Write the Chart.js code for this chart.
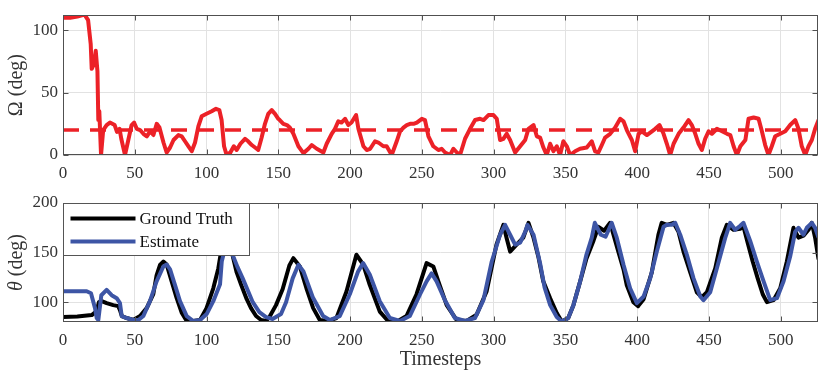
<!DOCTYPE html>
<html>
<head>
<meta charset="utf-8">
<script src="https://cdn.jsdelivr.net/npm/chart.js@4.4.1/dist/chart.umd.min.js"></script>
<style>
  html, body { margin: 0; padding: 0; background: #fff; }
  #wrap { position: relative; width: 821px; height: 373px; }
  #omegaChart { position: absolute; left: 0; top: 0; }
  #thetaChart { position: absolute; left: 0; top: 185px; }
</style>
</head>
<body>
<div id="wrap">
  <canvas id="omegaChart" width="821" height="185"></canvas>
  <canvas id="thetaChart" width="821" height="188"></canvas>
</div>
<script>
// Timesteps axis
const xTicks = [0, 50, 100, 150, 200, 250, 300, 350, 400, 450, 500];
const xMax = 526;

// Top panel: Omega (deg) and its dashed reference level
const omegaTicks = [0, 50, 100];
const omegaMax = 112;
const omegaRef = 20;
const omegaT = [0, 5, 10, 15, 17.5, 19.3, 20, 21.6, 22.8, 24, 24.6, 25.3, 26.5, 28, 30.4, 32.7, 36, 37.6, 39.4, 40.6,
  43.2, 45.5, 47.8, 49.5, 51.4, 53.7, 56, 58.4, 60.7, 63, 65.3, 67.2, 70, 72.2, 74.6, 77, 80.4, 82.7, 85, 87.4,
  89.7, 92, 94.3, 96.6, 100, 103.6, 106.6, 108.9, 110.5, 112.2, 114, 116.6, 119, 121, 123.6, 126.8, 129, 131.5, 133.8, 136,
  138.4, 140.7, 143, 145.4, 147.7, 150, 151, 153.5, 156, 158, 160.5, 164, 167.5, 171, 173.3, 176.8, 181.4, 183.7, 187.2, 189.5,
  191.8, 194, 196.5, 198.8, 201, 204.2, 205.8, 209.3, 211.6, 214, 217.4, 219.7, 223.2, 225.5, 229, 232.5, 234.8, 237.2, 239.5, 241.8,
  244.2, 246.5, 250, 252.2, 254.6, 258, 261.5, 263.8, 266.2, 269.7, 272, 274.4, 276.6, 280.1, 283.6, 287.1, 290.6, 293, 296.4, 299.9,
  302.2, 304.5, 306.8, 309.1, 311.5, 315, 318.5, 322, 324.3, 327.8, 330.1, 332.4, 334.7, 337, 339.4, 341.7, 344, 346.3, 348.6, 351,
  353.3, 356.8, 360.2, 364.9, 368.4, 370.7, 373, 375.4, 377.7, 381.2, 384.7, 388.2, 390.5, 392.8, 396.3, 398.6, 401, 403.3, 406.8, 410.3,
  412.6, 415.6, 418.4, 420.7, 423, 425.4, 428.9, 432.3, 435.8, 438.1, 440.5, 442.8, 445.1, 447.4, 449.8, 452.1, 455.6, 459.1, 462.6, 464.9,
  467.2, 469.5, 471.9, 475.4, 477.6, 481.1, 484.6, 486.9, 489.2, 491.5, 493.8, 496.2, 499.7, 503.2, 506.6, 510.1, 512.4, 514.7, 517.1, 519.4,
  521.7, 524, 526.4];
const omegaVal = [110, 110, 111, 112.5, 108, 89, 69, 73, 83.5, 67, 28, 35, 0, 20, 24, 26, 24, 18.5, 21, 13,
  0, 12, 24, 26, 21, 20, 17, 15, 19, 16, 25, 22, 10, 2, 6, 12, 16, 15, 11, 7,
  3, 10, 23, 31, 33, 35, 37, 36, 28, 7, 0, 2, 7, 4, 9, 13, 11, 8, 6, 4,
  14, 25, 33, 36, 33, 29, 28, 25, 24, 22, 17, 7, 1.5, 5, 8, 5, 2, 9, 17, 21,
  27, 26, 29, 24, 26, 32, 21, 7, 4, 5, 11, 10, 7, 7, 0, 11, 19, 22, 24, 25,
  25, 26, 29, 28, 15, 7, 4, 5, 2, 0, 5, 2, 0, 13, 21, 28, 29, 28, 32, 32,
  29, 12, 13, 17, 12, 2, 7, 12, 21, 24, 15, 14, 6, 0, 9, 3, 7, 0, 11, 7,
  0, 3, 5, 6, 11, 3, 2, 8, 14, 17, 22, 29, 27, 20, 12, 3, 17, 19, 16, 19,
  21, 24, 17, 9, 0, 9, 17, 22, 28, 24, 17, 9, 4, 13, 19, 17, 21, 19, 17, 16,
  7, 0, 7, 12, 29, 30, 29, 19, 8, 0, 7, 15, 17, 19, 24, 28, 21, 7, 0, 7,
  12, 21, 28];

// Bottom panel: theta (deg), ground truth vs estimate
const thetaTicks = [100, 150, 200];
const thetaMin = 80;
const thetaMax = 200;
const gtT = [0, 10, 20, 23.5, 25, 27, 30.4, 35, 38.5, 39.7, 41, 44.4, 49, 53.7, 58.3, 62.9, 65.2, 67.6, 69.9, 72.2,
  75.7, 79.2, 82.8, 86.2, 90.8, 95.5, 100, 104.7, 108.2, 110.6, 113.5, 116, 118, 121, 124, 128, 131, 134.5, 138, 141.5,
  144, 148.4, 153, 157.7, 160.5, 165, 169.6, 174.3, 178.9, 184.7, 190.5, 197.5, 204.4, 209.1, 213.7, 220.7, 226.5, 233.4, 239.3, 246.3,
  253.3, 258, 261.5, 267.3, 274.3, 281.2, 288.2, 295.1, 302, 306.8, 309, 311.5, 316, 320.7, 324.3, 327.8, 331.3, 334.6, 339.4, 344,
  347.5, 352, 355.6, 360.3, 364.7, 369.6, 373, 377, 381.2, 386.9, 390.5, 392.8, 397.4, 400.7, 404.5, 410.2, 414.8, 417.1, 420.7, 425.3,
  428.8, 432.3, 437, 441.6, 445.1, 448.6, 454.4, 459, 462.5, 467.2, 471.8, 474.1, 477, 480.5, 484, 487.5, 490.4, 495, 499.7, 504.3,
  508.9, 512.4, 515.9, 519.4, 521.7, 524, 526.4];
const gtVal = [85, 85.5, 87, 91, 100, 101, 99, 97, 96, 92, 86, 84, 82, 86, 94, 108, 127, 137.5, 141, 138,
  121, 104, 89, 81, 81, 82, 94, 114, 134, 155, 176, 165, 148, 130, 118, 103, 94, 86, 82, 81,
  85.5, 97, 113, 137, 144.4, 136, 114, 94, 82, 81, 84, 110.7, 147.8, 138, 117.5, 90.5, 81, 81, 86, 108,
  139.4, 136, 121, 97, 82, 81, 87.5, 110.7, 158, 178, 165, 151, 158, 165, 180, 165, 145, 121, 104, 89,
  80.5, 84, 97, 121, 144, 162, 176, 172, 180, 151, 133, 117, 100, 96, 103, 130, 168, 180, 178, 180,
  171, 151, 130, 110, 105, 110, 134, 165, 178, 173, 174, 176, 160, 141, 124, 108, 100, 102, 114, 141,
  175, 165, 167, 173, 180, 165, 143];
const estT = [0, 10, 16.5, 19.5, 22.3, 23.5, 24.6, 26.7, 30.4, 33.9, 37.4, 39.7, 40.9, 44.4, 49, 52.5, 56, 60.6, 65.2, 69.9,
  72.2, 74.6, 78, 81.5, 86.2, 90.8, 95.5, 100.1, 104.7, 109.4, 110.6, 111.8, 114.5, 116.5, 118.2, 121.7, 125.2, 128.7, 132.2, 136.8,
  141.5, 146, 151.9, 155.4, 160, 164, 167.5, 174, 181.2, 185.9, 192.8, 199.8, 205.6, 209.1, 213.7, 220.7, 227.7, 234.7, 241.6, 248.8,
  253.3, 256.8, 260.3, 266.1, 273, 280, 287, 292.9, 298.7, 304.5, 308, 311.5, 315, 318.5, 322, 323.6, 327.8, 332.4, 335.5, 339.4,
  344, 347.5, 352, 355.6, 360.3, 364.7, 368.4, 370.5, 374.7, 378, 382.3, 385.8, 390.5, 395.1, 399.8, 404.5, 409.1, 413.7, 418.4, 420.7,
  424.2, 426.5, 430, 434.6, 439.3, 444, 446.2, 450.9, 455.5, 461.3, 464.8, 468.3, 471.8, 474.1, 478.7, 483.4, 488.1, 492.7, 497.4, 502,
  506.6, 510.1, 512.4, 515.9, 518.2, 521.7, 524, 526.4];
const estVal = [111, 111, 111, 109, 94, 84, 82, 107, 112.4, 107, 104, 99, 86, 84, 82, 82, 86, 101, 121, 136,
  138, 133, 117.5, 101, 86, 81, 82, 88, 101, 118, 141, 148, 175, 170, 147.5, 135, 124, 112, 100, 90,
  85, 83, 88, 100, 124, 137.7, 131, 105, 86, 82, 86, 108, 131, 139.4, 128, 101, 84, 81, 86, 108,
  121, 129, 121, 102, 84, 81, 84, 102, 141, 168, 178, 168, 158, 160, 171, 178, 168, 139, 115, 97,
  85, 80.5, 84, 97, 121, 148, 165, 180, 168, 166, 180, 165, 137.7, 114, 99, 105.7, 124, 151, 176, 178,
  178, 180, 168, 148, 124, 105.7, 102, 110, 134, 164.6, 180, 173, 177, 180, 162, 141, 121, 102, 104, 121,
  146, 171, 175, 168, 175, 180, 175, 165];

const FONT = "'Liberation Serif', 'Times New Roman', serif";
const TEXT = '#333333';
const BOX = '#505050';
const GRID = '#e2e2e2';
const RED = '#ec2127';
const BLUE = '#3d55a5';

const pts = (xs, ys) => xs.map((x, i) => ({ x: x, y: ys[i] }));

// MATLAB-like axes: box, inward ticks, rotated y title, x title, boxed legend
const axesBox = {
  id: 'axesBox',
  afterDatasetsDraw(chart, args, opts) {
    const { ctx, chartArea: a, scales } = chart;
    const L = Math.round(a.left) + 0.5, R = Math.round(a.right) - 0.5;
    const T = Math.round(a.top) + 0.5, B = Math.round(a.bottom) - 0.5;
    ctx.save();
    ctx.strokeStyle = BOX;
    ctx.lineWidth = 1;
    ctx.beginPath();
    scales.x.ticks.forEach(t => {
      const px = Math.round(scales.x.getPixelForValue(t.value)) + 0.5;
      ctx.moveTo(px, T); ctx.lineTo(px, T + 5);
      ctx.moveTo(px, B); ctx.lineTo(px, B - 5);
    });
    scales.y.ticks.forEach(t => {
      const py = Math.round(scales.y.getPixelForValue(t.value)) + 0.5;
      ctx.moveTo(L, py); ctx.lineTo(L + 5, py);
      ctx.moveTo(R, py); ctx.lineTo(R - 5, py);
    });
    ctx.stroke();
    ctx.strokeRect(L, T, R - L, B - T);

    // legend box in the upper left corner
    if (opts.legend) {
      const w = 186, h = 52;
      ctx.fillStyle = '#ffffff';
      ctx.fillRect(L, T, w, h);
      ctx.strokeStyle = '#555555';
      ctx.strokeRect(L, T, w, h);
      ctx.font = '17px ' + FONT;
      ctx.textBaseline = 'middle';
      ctx.textAlign = 'left';
      chart.data.datasets.forEach((ds, i) => {
        const y = T + 15 + i * 23;
        ctx.strokeStyle = ds.borderColor;
        ctx.lineWidth = 4;
        ctx.beginPath();
        ctx.moveTo(L + 7, y); ctx.lineTo(L + 72, y);
        ctx.stroke();
        ctx.fillStyle = '#111111';
        ctx.fillText(ds.label, L + 76, y + 1);
      });
    }

    // y title, rotated, with optional italic symbol
    ctx.fillStyle = TEXT;
    ctx.textBaseline = 'middle';
    ctx.textAlign = 'left';
    const parts = opts.yTitle;
    const fontFor = p => (p.italic ? 'italic ' : '') + '20px ' + FONT;
    let total = 0;
    parts.forEach(p => { ctx.font = fontFor(p); total += ctx.measureText(p.text).width; });
    ctx.translate(17, (a.top + a.bottom) / 2);
    ctx.rotate(-Math.PI / 2);
    let x0 = -total / 2;
    parts.forEach(p => {
      ctx.font = fontFor(p);
      ctx.fillText(p.text, x0, 0);
      x0 += ctx.measureText(p.text).width;
    });
    ctx.setTransform(1, 0, 0, 1, 0, 0);

    if (opts.xTitle) {
      ctx.font = '20px ' + FONT;
      ctx.textAlign = 'center';
      ctx.fillText(opts.xTitle, (a.left + a.right) / 2, opts.xTitleY);
    }
    ctx.restore();
  }
};

function makeOptions(yMin, yMax, yTicks, xHeight, padTop, boxOpts) {
  return {
    responsive: false,
    animation: false,
    layout: { padding: { top: padTop, right: 3, left: 0, bottom: 0 } },
    plugins: {
      legend: { display: false },
      tooltip: { enabled: false },
      axesBox: boxOpts
    },
    scales: {
      x: {
        type: 'linear',
        min: 0,
        max: xMax,
        afterBuildTicks: s => { s.ticks = xTicks.map(v => ({ value: v })); },
        afterFit: s => { s.height = xHeight; },
        grid: { color: GRID, drawTicks: false },
        border: { display: false },
        ticks: { font: { family: FONT, size: 17 }, color: TEXT, padding: 8, maxRotation: 0 }
      },
      y: {
        type: 'linear',
        min: yMin,
        max: yMax,
        afterBuildTicks: s => { s.ticks = yTicks.map(v => ({ value: v })); },
        afterFit: s => { s.width = 63; },
        grid: { color: GRID, drawTicks: false },
        border: { display: false },
        ticks: { font: { family: FONT, size: 17 }, color: TEXT, padding: 5 }
      }
    }
  };
}

new Chart(document.getElementById('omegaChart'), {
  type: 'line',
  data: {
    datasets: [
      {
        label: 'Omega',
        data: pts(omegaT, omegaVal),
        borderColor: RED,
        borderWidth: 4,
        pointRadius: 0,
        tension: 0,
        borderJoinStyle: 'round',
        borderCapStyle: 'round'
      },
      {
        label: 'Reference',
        data: [{ x: 0, y: omegaRef }, { x: xMax, y: omegaRef }],
        borderColor: RED,
        borderWidth: 3.5,
        borderDash: [16, 11],
        pointRadius: 0
      }
    ]
  },
  options: makeOptions(0, omegaMax, omegaTicks, 30, 14, {
    yTitle: [{ text: '\u03A9 (deg)' }]
  }),
  plugins: [axesBox]
});

new Chart(document.getElementById('thetaChart'), {
  type: 'line',
  data: {
    datasets: [
      {
        label: 'Ground Truth',
        data: pts(gtT, gtVal),
        borderColor: '#000000',
        borderWidth: 4,
        pointRadius: 0,
        tension: 0,
        borderJoinStyle: 'round',
        order: 1
      },
      {
        label: 'Estimate',
        data: pts(estT, estVal),
        borderColor: BLUE,
        borderWidth: 4,
        pointRadius: 0,
        tension: 0,
        borderJoinStyle: 'round',
        order: 0
      }
    ]
  },
  options: makeOptions(thetaMin, thetaMax, thetaTicks, 51, 18, {
    yTitle: [{ text: '\u03B8', italic: true }, { text: ' (deg)' }],
    legend: true,
    xTitle: 'Timesteps',
    xTitleY: 175
  }),
  plugins: [axesBox]
});
</script>
</body>
</html>
